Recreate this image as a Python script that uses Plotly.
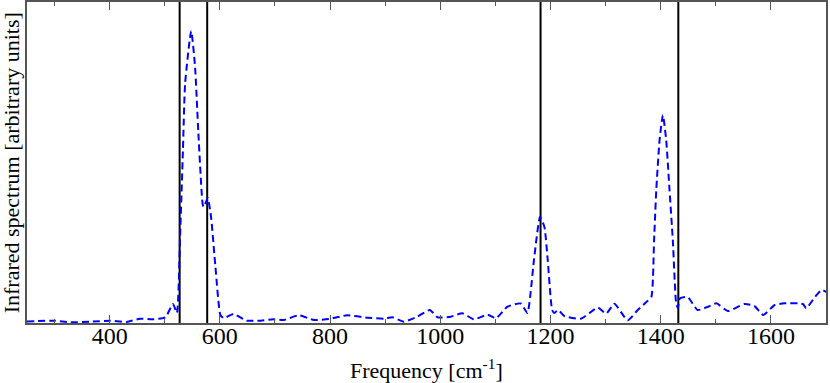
import plotly.graph_objects as go

# Spectrum (frequency in cm^-1, intensity arbitrary units)
freq = [250, 301, 328, 364, 401, 431, 455, 477, 501, 515, 522, 528, 533, 537, 548, 555,
        561, 569, 571, 578, 584, 592, 601, 607, 625, 643, 649, 674, 697, 716, 743, 771,
        798, 831, 868, 898, 913, 934, 958, 981, 995, 1019, 1040, 1061, 1086, 1101, 1122,
        1146, 1158, 1170, 1181, 1189, 1195, 1203, 1207, 1214, 1225, 1255, 1286, 1301, 1316,
        1340, 1358, 1374, 1383, 1388, 1392, 1398, 1404, 1410, 1416, 1422, 1428, 1431, 1435,
        1449, 1467, 1486, 1501, 1522, 1552, 1570, 1586, 1607, 1625, 1658, 1664, 1680, 1692, 1704]
intensity = [1.5, 2.3, 0.7, 1.3, 2.3, 1.0, 4.3, 3.7, 5.7, 19, 10, 90, 173, 240, 292, 256,
             190, 118, 116, 125, 106, 56, 8, 5, 9, 3.7, 2.3, 2.3, 3.7, 3.0, 7.7, 3.0,
             4.0, 7.7, 5.3, 4.3, 5.7, 1.3, 6.3, 13, 5.7, 6.3, 9.7, 3.7, 8.3, 4.7, 16.3,
             19.5, 10, 63, 106, 96, 63, 13, 10, 13, 7, 4.3, 15.3, 9.3, 19.3,
             2.7, 12.7, 21, 26, 83, 133, 183, 208, 183, 133, 83, 20, 15, 24.7,
             26, 13, 16.3, 19.7, 12, 19, 17, 8, 18, 19.7, 19, 14.7, 26, 33, 30]

# Reference frequencies (vertical lines)
ref_freq = [527, 577, 1182, 1432]

tick_vals = [400, 600, 800, 1000, 1200, 1400, 1600]
tick_text = ["400", "600", "800", "1000", "1200", "1400", "1600"]

x_range = [250, 1700]
y_range = [0, 321]

fig = go.Figure()
for f in ref_freq:
    fig.add_trace(go.Scatter(x=[f, f], y=y_range, mode="lines",
                             line=dict(color="black", width=2), showlegend=False,
                             hoverinfo="skip"))
fig.add_trace(go.Scatter(x=freq, y=intensity, mode="lines",
                         line=dict(color="#0000ff", width=2, dash="7px,4px",
                                   shape="spline", smoothing=0.5),
                         showlegend=False))

serif = "Liberation Serif, Times New Roman, Times, serif"
font = dict(family=serif, size=22, color="black")
fig.update_layout(
    width=830, height=383,
    margin=dict(l=27, r=4, t=2, b=60, autoexpand=False),
    paper_bgcolor="white", plot_bgcolor="white",
    font=font,
    xaxis=dict(range=x_range, tickvals=tick_vals, ticktext=tick_text,
               ticks="inside", ticklen=8, tickwidth=1, tickcolor="#555",
               minor=dict(dtick=100, tick0=0, ticks="inside", ticklen=4, tickcolor="#555"),
               showline=True, linecolor="#555", linewidth=1.5, mirror="allticks",
               showgrid=False, zeroline=False, automargin=False,
               ticklabelstandoff=-10,
               tickfont=dict(family=serif, size=24, color="black")),
    yaxis=dict(range=y_range, showticklabels=False, ticks="",
               showline=True, linecolor="#555", linewidth=1.5, mirror=True,
               showgrid=False, zeroline=False, automargin=False),
    annotations=[
        dict(text="Frequency [cm<sup>-1</sup>]", xref="paper", yref="paper",
             x=0.5, y=-0.143, xanchor="center", yanchor="middle", showarrow=False,
             font=font),
        dict(text="Infrared spectrum [arbitrary units]", xref="paper", yref="paper",
             x=-0.019, y=0.5, xanchor="center", yanchor="middle", textangle=-90,
             showarrow=False, font=font),
    ],
)
fig.write_html("out.html", config={"displayModeBar": False},
               post_script="document.body.style.margin='0';document.body.style.overflow='hidden';")
